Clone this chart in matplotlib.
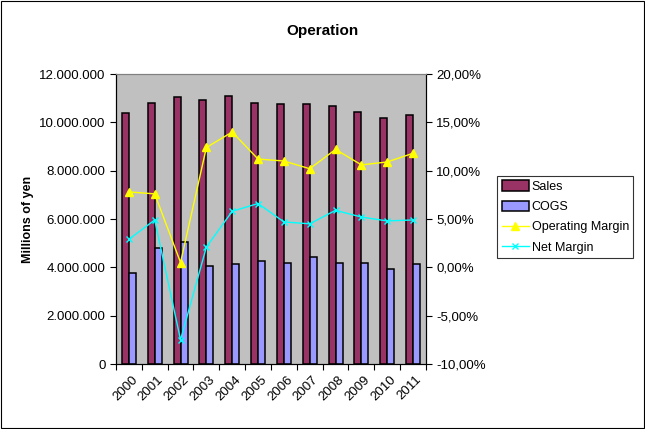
import matplotlib
matplotlib.use('Agg')
import matplotlib.pyplot as plt
from matplotlib.ticker import FuncFormatter
import numpy as np

plt.rcParams['font.family'] = ['Liberation Sans', 'DejaVu Sans']

years = ['2000', '2001', '2002', '2003', '2004', '2005',
         '2006', '2007', '2008', '2009', '2010', '2011']
sales = [10370000, 10820000, 11030000, 10910000, 11080000, 10780000,
         10740000, 10740000, 10660000, 10410000, 10170000, 10290000]
cogs = [3750000, 4790000, 5060000, 4040000, 4120000, 4250000,
        4170000, 4410000, 4170000, 4170000, 3920000, 4120000]
op_margin = [7.8, 7.6, 0.5, 12.4, 14.0, 11.2, 11.0, 10.2, 12.2, 10.6, 10.9, 11.8]
net_margin = [2.9, 4.9, -7.5, 2.1, 5.8, 6.6, 4.7, 4.5, 5.9, 5.2, 4.8, 4.9]


def fmt_thousands(v, pos):
    return '{:,.0f}'.format(v).replace(',', '.')


def fmt_pct(v, pos):
    return '{:.2f}%'.format(v).replace('.', ',')


fig = plt.figure(figsize=(6.45, 4.29), dpi=100)
fig.patch.set_facecolor('white')
fig.patches.append(plt.Rectangle((0.002, 0.002), 0.996, 0.995, transform=fig.transFigure,
                                 fill=False, edgecolor='black', linewidth=0.8))

ax = fig.add_axes([0.1798, 0.1515, 0.4806, 0.676])
ax.set_facecolor('#C0C0C0')
x = np.arange(len(years))
w = 0.27
ax.bar(x - w / 2, sales, w, color='#993366', edgecolor='black', linewidth=1.1, label='Sales', zorder=2)
ax.bar(x + w / 2, cogs, w, color='#9999FF', edgecolor='black', linewidth=1.1, label='COGS', zorder=2)
ax.set_xlim(-0.5, len(years) - 0.5)
ax.set_ylim(0, 12000000)
ax.set_yticks(np.arange(0, 12000001, 2000000))
ax.yaxis.set_major_formatter(FuncFormatter(fmt_thousands))
ax.set_xticks(np.arange(-0.5, len(years), 1))
ax.set_xticklabels([])
ax.set_xticks(x + 0.1, minor=True)
ax.set_xticklabels(years, minor=True, rotation=45, ha='right', rotation_mode='anchor')
ax.tick_params(axis='x', which='minor', length=0, pad=7, labelsize=9.5)
ax.tick_params(axis='x', which='major', length=4, direction='out')
ax.tick_params(axis='y', length=4, labelsize=9.5)
ax.set_ylabel('Millions of yen', fontweight='bold', fontsize=9)
for s in ['left', 'bottom', 'right']:
    ax.spines[s].set_color('black')
ax.spines['top'].set_color('#808080')

ax2 = ax.twinx()
ax2.plot(x, op_margin, color='#FFFF00', linewidth=1, marker='^', markersize=6,
         markeredgecolor='#FFFF00', label='Operating Margin', zorder=3)
ax2.plot(x, net_margin, color='#00FFFF', linewidth=1, marker='x', markersize=5,
         markeredgewidth=1, label='Net Margin', zorder=3)
ax2.set_ylim(-10, 20)
ax2.set_yticks(np.arange(-10, 20.1, 5))
ax2.yaxis.set_major_formatter(FuncFormatter(fmt_pct))
ax2.tick_params(axis='y', length=4, labelsize=9.5)
ax2.spines['top'].set_color('#808080')

fig.suptitle('Operation', y=0.945, fontsize=11, fontweight='bold')

h1, l1 = ax.get_legend_handles_labels()
h2, l2 = ax2.get_legend_handles_labels()
leg = fig.legend(h1 + h2, l1 + l2, loc='upper left', bbox_to_anchor=(0.771, 0.59),
                 borderaxespad=0, fontsize=9, frameon=True, fancybox=False, edgecolor='black',
                 borderpad=0.35, labelspacing=0.62, handlelength=2.2, handleheight=0.9,
                 handletextpad=0.2)
leg.get_frame().set_linewidth(0.8)

fig.savefig('out.png', dpi=100)
